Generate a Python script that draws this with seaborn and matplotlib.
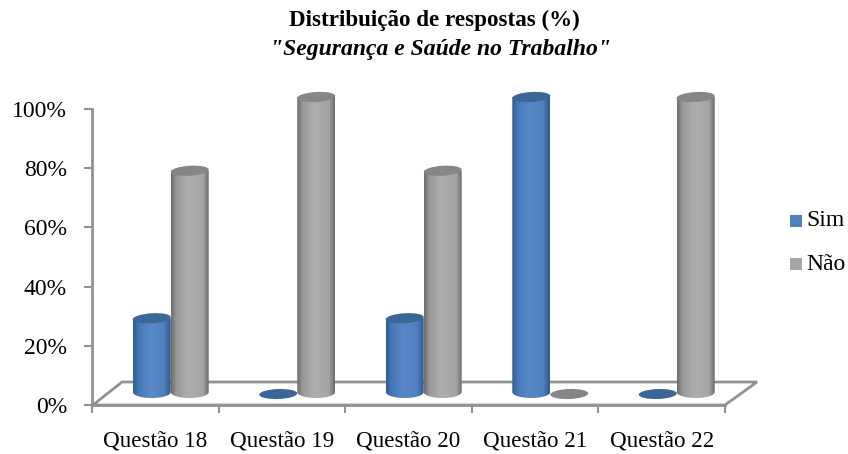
import numpy as np
import pandas as pd
import matplotlib
matplotlib.use("Agg")
import matplotlib.pyplot as plt
import seaborn as sns
from matplotlib.colors import LinearSegmentedColormap
from matplotlib.patches import Ellipse, PathPatch, Polygon
from matplotlib.path import Path
from matplotlib.transforms import Affine2D
from matplotlib.ticker import FixedLocator, NullFormatter

questions = ["Questão 18", "Questão 19", "Questão 20", "Questão 21", "Questão 22"]
sim_values = [25, 0, 25, 100, 0]
nao_values = [75, 100, 75, 0, 100]
series_names = ["Sim", "Não"]
y_ticks = [0, 20, 40, 60, 80, 100]

W, H = 848, 454
sns.set_style("white")
plt.rcParams["font.family"] = ["Liberation Serif", "DejaVu Serif"]
AXIS = "#929292"
LEGEND_COLORS = {"Sim": "#4f81bd", "Não": "#a6a6a6"}
TOP_COLORS = {"Sim": "#3b6696", "Não": "#868686"}
SHADES = {
    "Sim": [(0, "#2f5c92"), (0.14, "#4677b5"), (0.45, "#5789c9"), (0.82, "#5080bf"), (1, "#2f5a8c")],
    "Não": [(0, "#6d6d6d"), (0.14, "#999999"), (0.45, "#aeaeae"), (0.85, "#a4a4a4"), (1, "#6c6c6c")],
}


def box(left, top, right, bottom):
    return [left / W, 1 - bottom / H, (right - left) / W, (bottom - top) / H]


fig = plt.figure(figsize=(W / 100, H / 100), dpi=100, facecolor="white")

# Front plane: value axis, category ticks and the floor of the 3D box
frame = fig.add_axes(box(92, 109, 725, 405))
frame.set_xlim(-0.5, 4.5)
frame.set_ylim(0, 100)
frame.patch.set_alpha(0)
for name in ("top", "right"):
    frame.spines[name].set_visible(False)
for name in ("left", "bottom"):
    frame.spines[name].set_color(AXIS)
    frame.spines[name].set_linewidth(2.0)
frame.set_yticks(y_ticks)
frame.set_yticklabels([f"{v}%" for v in y_ticks], fontsize=17)
frame.tick_params(axis="y", length=6, width=1.5, color=AXIS, pad=12, left=True, labelcolor="black")
frame.set_xticks(range(len(questions)))
frame.set_xticklabels(questions, fontsize=16.6)
frame.tick_params(axis="x", which="major", length=0, pad=18, labelcolor="black")
frame.xaxis.set_minor_locator(FixedLocator(np.arange(-0.5, 5, 1)))
frame.xaxis.set_minor_formatter(NullFormatter())
frame.tick_params(axis="x", which="minor", length=6, width=1.5, color=AXIS, bottom=True)

floor = Polygon(
    [(93 / W, 1 - 405 / H), (122 / W, 1 - 382 / H), (757 / W, 1 - 382 / H), (725 / W, 1 - 405 / H)],
    closed=True, transform=fig.transFigure, facecolor="white", edgecolor=AXIS, linewidth=2.0,
    clip_on=False, zorder=0.5,
)
frame.add_patch(floor)

# Cylinders sit on a plane shifted back along the depth of the box
bars = fig.add_axes(box(107.5, 97, 740, 392))
bars.patch.set_alpha(0)
data = pd.DataFrame({
    "questao": questions * 2,
    "resposta": ["Sim"] * len(questions) + ["Não"] * len(questions),
    "valor": sim_values + nao_values,
})
sns.barplot(
    data=data, x="questao", y="valor", hue="resposta", order=questions, hue_order=series_names,
    palette=LEGEND_COLORS, width=0.6, gap=0, saturation=1, errorbar=None, legend=False, ax=bars,
)
bars.set_xlim(-0.5, 4.5)
bars.set_ylim(0, 100)
bars.axis("off")

RX, RY, TILT = 19.0, 5.0, 3.5
BASE_DROP = 2.0
fig.canvas.draw()
y_unit = 295 / 100


def cap(x_data, y_data, color, z, drop=0.0, tilt=TILT):
    px, py = bars.transData.transform((x_data, y_data))
    shape = Ellipse((0, 0), 2 * RX, 2 * RY, angle=tilt, facecolor=color, edgecolor="none",
                    transform=Affine2D().translate(px, py - drop), zorder=z, clip_on=False)
    bars.add_patch(shape)


for name, container in zip(series_names, bars.containers):
    cmap = LinearSegmentedColormap.from_list(f"shade_{name}", SHADES[name])
    for rect in container:
        x0, w, h = rect.get_x(), rect.get_width(), rect.get_height()
        rect.set_visible(False)
        xc = x0 + w / 2
        if h == 0:
            # An empty answer leaves only the flat base disc of the cylinder
            cap(xc, 0, TOP_COLORS[name], 2, drop=BASE_DROP, tilt=2)
            continue
        sag = (RY + 1) / y_unit
        t = np.linspace(np.pi, 2 * np.pi, 40)
        outline = np.column_stack([xc + w / 2 * np.cos(t), sag * np.sin(t)])
        outline = np.vstack([outline, [x0 + w, h], [x0, h], outline[0]])
        clip = PathPatch(Path(outline), transform=bars.transData, facecolor="none", edgecolor="none")
        clip.set_clip_on(False)
        bars.add_patch(clip)
        z = 3 if name == "Sim" else 4
        img = bars.imshow(np.linspace(0, 1, 64)[None, :], cmap=cmap, aspect="auto",
                          extent=[x0, x0 + w, -sag, h], zorder=z, interpolation="bilinear")
        img.set_clip_box(fig.bbox)
        img.set_clip_path(clip)
        cap(xc, h, TOP_COLORS[name], z + 0.1)

bars.set_xlim(-0.5, 4.5)
bars.set_ylim(0, 100)

# Legend with small square keys
for name, y_px in zip(series_names, (221, 264)):
    fig.patches.append(plt.Rectangle((790 / W, 1 - (y_px + 6) / H), 12 / W, 12 / H,
                                     transform=fig.transFigure, facecolor=LEGEND_COLORS[name],
                                     edgecolor="none"))
    fig.text(806 / W, 1 - y_px / H, name, fontsize=17, va="center", ha="left", color="black")

fig.text(434 / W, 1 - 20 / H, "Distribuição de respostas (%)", fontsize=16.6, fontweight="bold",
         ha="center", va="center", color="black")
fig.text(441 / W, 1 - 50 / H, "\"Segurança e Saúde no Trabalho\"", fontsize=17, fontweight="bold",
         fontstyle="italic", ha="center", va="center", color="black")

fig.savefig("out.png", dpi=100, facecolor="white")
